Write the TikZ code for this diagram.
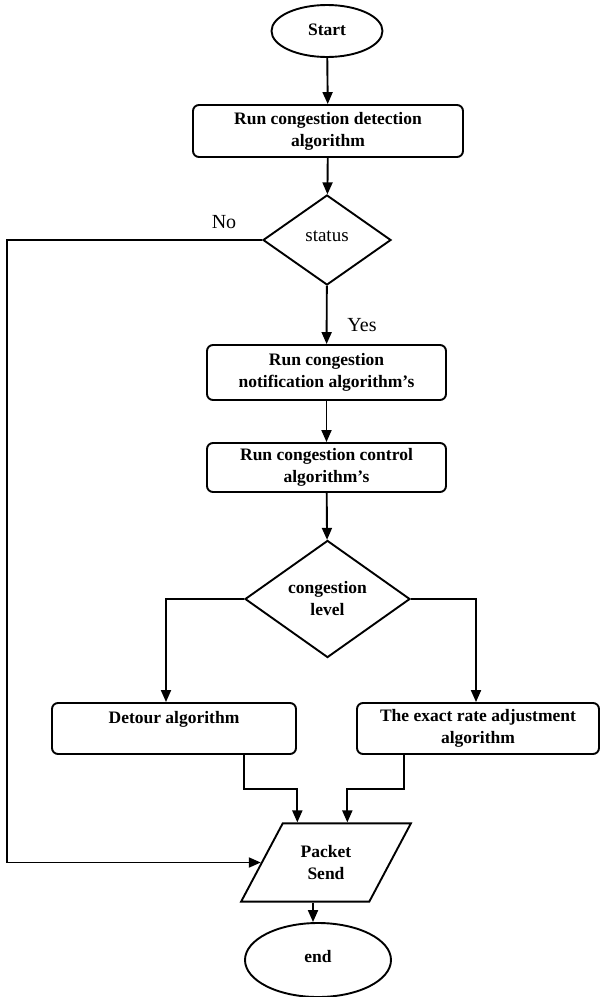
\documentclass[tikz,border=0pt]{standalone}
\usepackage{fontspec}
\setmainfont{Liberation Serif}
\usepackage{tikz}
\usetikzlibrary{positioning,shapes.geometric,arrows.meta}
\tikzset{
    box/.style={
        rectangle,
        rounded corners=6pt,
        draw=black,
        text centered,
        align=center,
        font=\bfseries\fontsize{17.5}{22}\selectfont
    },
    decision/.style={
        diamond,
        draw=black,
        align=center,
        inner sep=1pt
    },
    terminal/.style={
        ellipse,
        draw=black,
        font=\bfseries\fontsize{17.5}{20}\selectfont
    },
    arrow/.style={
        ->,
        >={Triangle[length=12pt,width=10pt]}
    }
}

\begin{document}
\begin{tikzpicture}[x=1pt,y=-1pt,line width=1.9pt]
          \useasboundingbox (0,0) rectangle (600,997);
          \node (start) [terminal, minimum width=111, minimum height=52] at (327,31) {\raisebox{2pt}{Start}};
          \node (detect) [box, minimum width=270, minimum height=52] at (328,131) {Run congestion detection\\algorithm};
          \node (status) [decision, minimum width=128, minimum height=90, font=\fontsize{19}{20}\selectfont] at (327,240) {\raisebox{7pt}{status}};
          \node (notify) [box, minimum width=239, minimum height=55] at (326.5,372.5) {Run congestion\\notification algorithm's};
          \node (control) [box, minimum width=239, minimum height=49] at (326.5,467.5) {Run congestion control\\algorithm's};
          \node (level) [decision, minimum width=165, minimum height=102, font=\bfseries\fontsize{17.5}{22}\selectfont] at (327.5,599) {congestion\\level};
          \node (detour) [box, minimum width=244, minimum height=51] at (174,728.5) {Detour algorithm\\~};
          \node (exact) [box, minimum width=242, minimum height=51] at (478,728.5) {The exact rate adjustment\\algorithm};
          \node (send) [trapezium, trapezium left angle=62, trapezium right angle=118, draw=black, minimum width=0, minimum height=0, inner xsep=18pt, inner ysep=22pt, align=center, font=\bfseries\fontsize{17.5}{22}\selectfont] at (326,862.5) {Packet\\Send};
          \node (end) [terminal, minimum width=146, minimum height=74] at (318,960) {\raisebox{7pt}{end}};
          \node (no) [font=\fontsize{20}{20}\selectfont] at (224,222) {No};
          \node (yes) [font=\fontsize{20}{20}\selectfont] at (362,325) {Yes};
          \draw [arrow] (start) -- (detect);
          \draw [arrow] (detect) -- (status);
          \draw [arrow] (status) -- (notify);
          \draw [arrow] (notify) -- (control);
          \draw [arrow] (control) -- (level);
          \draw [arrow] (level.west) -| ([xshift=-8pt]detour.north);
          \draw [arrow] (level.east) -| ([xshift=-2pt]exact.north);
          \draw [arrow] (status.west) -- ++(-255,0) |- (send.left side);
          \draw [arrow] ([xshift=70pt]detour.south) -- ++(0,34) -| ([xshift=-50pt]send.top side);
          \draw [arrow] ([xshift=-74pt]exact.south) -- ++(0,34) -| (send.top side);
          \draw [arrow] ([xshift=-5pt]end.north |- send.bottom side) -- ([xshift=-5pt]end.north);
        \end{tikzpicture}
\end{document}
